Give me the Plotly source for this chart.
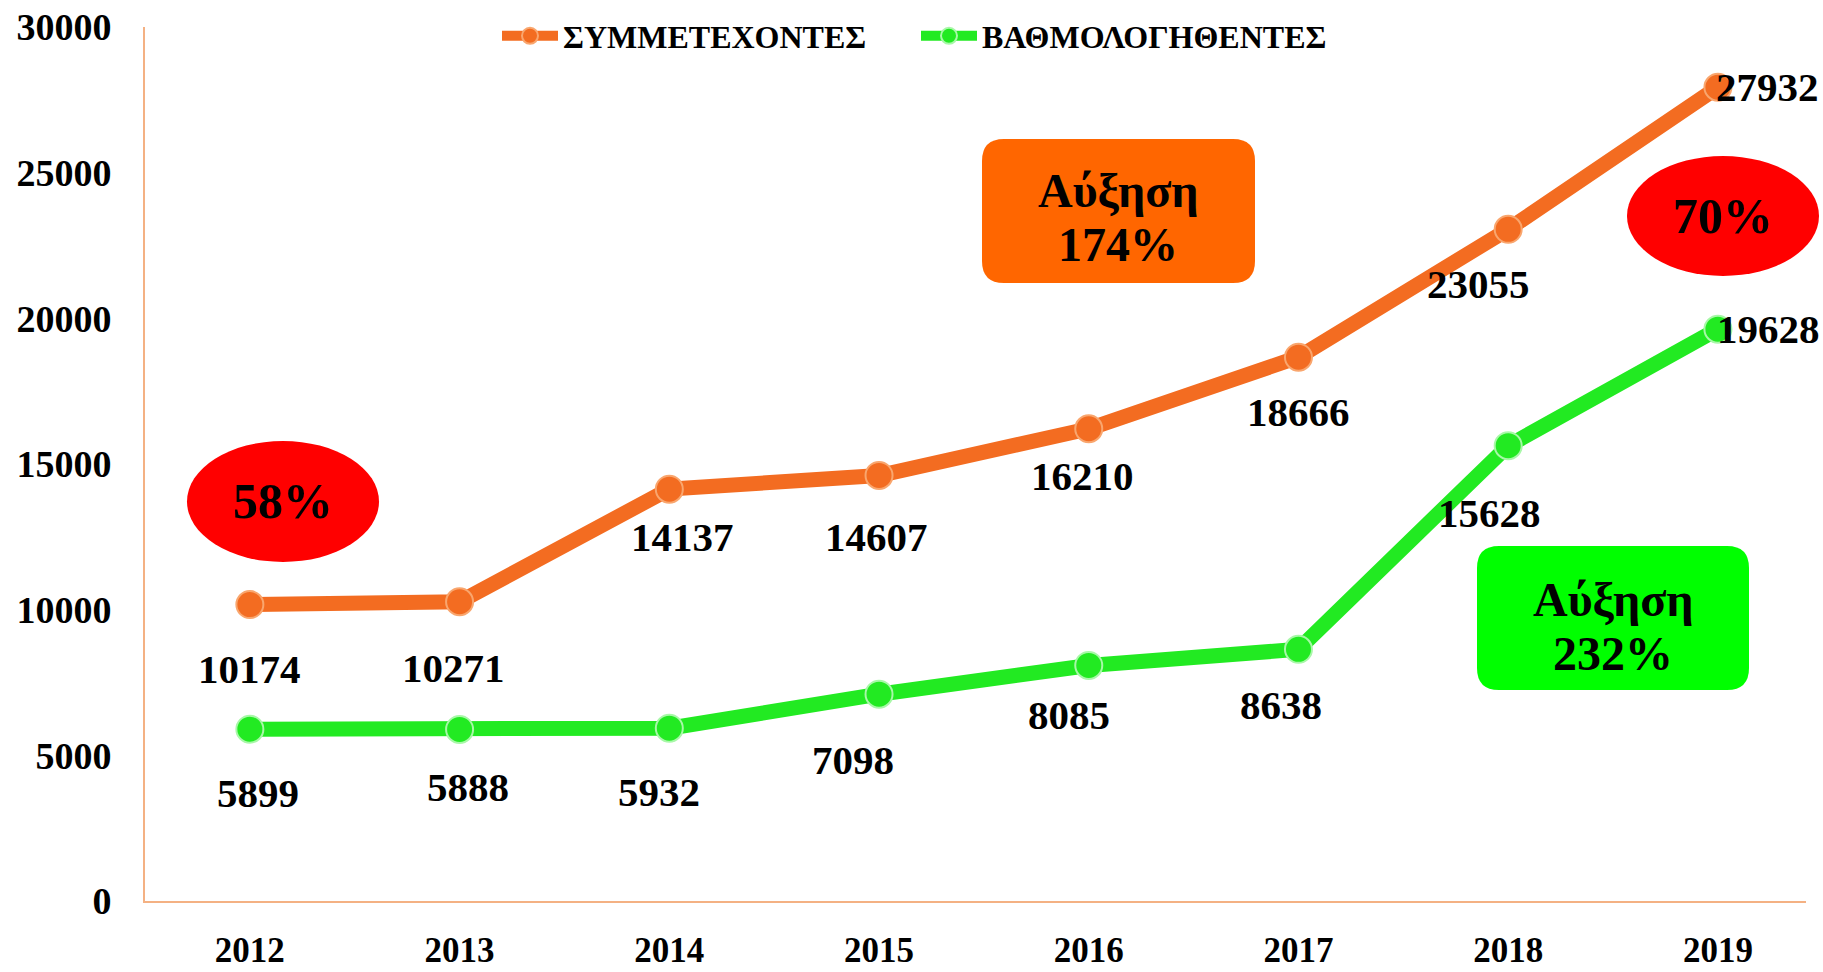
import plotly.graph_objects as go

years = ["2012", "2013", "2014", "2015", "2016", "2017", "2018", "2019"]
participants = [10174, 10271, 14137, 14607, 16210, 18666, 23055, 27932]
graded = [5899, 5888, 5932, 7098, 8085, 8638, 15628, 19628]
series_names = ["ΣΥΜΜΕΤΕΧΟΝΤΕΣ", "ΒΑΘΜΟΛΟΓΗΘΕΝΤΕΣ"]
y_ticks = [0, 5000, 10000, 15000, 20000, 25000, 30000]
box_word = "Αύξηση"
box_pcts = ["174%", "232%"]
ellipse_texts = ["58%", "70%"]

# label offsets (style only, px)
p_dx = [0, -6, 13, -3, -6, 0, -30, -4]
p_dy = [-64, -66, -48, -62, -47, -55, -55, 0]
g_dx = [8, 8, -10, -26, -20, -17, -19, -3]
g_dy = [-64, -58, -64, -66, -50, -56, -67, 0]

ORANGE = "#F36C21"
GREEN = "#22EA22"
FONT = "Liberation Serif, Times New Roman, serif"

W, H = 1823, 972
L, R, T, B = 145, 17, 27, 71
PW = W - L - R
PH = H - T - B


def px(x):
    return (x - L) / PW


def py(y):
    return (H - B - y) / PH


def rrect(x0, y0, x1, y1, r):
    a, b, c, d = px(x0), px(x1), py(y0), py(y1)
    rx, ry = r / PW, r / PH
    return (f"M {a+rx},{c} L {b-rx},{c} Q {b},{c} {b},{c-ry} "
            f"L {b},{d+ry} Q {b},{d} {b-rx},{d} L {a+rx},{d} "
            f"Q {a},{d} {a},{d+ry} L {a},{c-ry} Q {a},{c} {a+rx},{c} Z")


fig = go.Figure()
fig.add_trace(go.Scatter(
    x=years, y=participants, name=series_names[0], mode="lines+markers",
    line=dict(color=ORANGE, width=15),
    marker=dict(size=27, color=ORANGE, line=dict(color="#F9A66E", width=2)),
))
fig.add_trace(go.Scatter(
    x=years, y=graded, name=series_names[1], mode="lines+markers",
    line=dict(color=GREEN, width=15),
    marker=dict(size=27, color=GREEN, line=dict(color="#A8F8A8", width=2)),
))

annotations = []
lab_font = dict(family=FONT, size=41, color="black", weight="bold")
for series, dxs, dys in ((participants, p_dx, p_dy), (graded, g_dx, g_dy)):
    for i, v in enumerate(series):
        last = i == len(series) - 1
        annotations.append(dict(
            xref="x", yref="y", x=i, y=v, text=str(v), showarrow=False, font=lab_font,
            xanchor="left" if last else "center", yanchor="middle",
            xshift=dxs[i], yshift=dys[i]))

shapes = [
    dict(type="path", xref="paper", yref="paper", path=rrect(982, 139, 1255, 283, 22),
         fillcolor="#FF6600", line=dict(width=0), layer="above"),
    dict(type="path", xref="paper", yref="paper", path=rrect(1477, 546, 1749, 690, 22),
         fillcolor="#00FF00", line=dict(width=0), layer="above"),
    dict(type="circle", xref="paper", yref="paper",
         x0=px(187), x1=px(379), y0=py(562), y1=py(441),
         fillcolor="#FF0000", line=dict(width=0), layer="above"),
    dict(type="circle", xref="paper", yref="paper",
         x0=px(1627), x1=px(1819), y0=py(276), y1=py(156),
         fillcolor="#FF0000", line=dict(width=0), layer="above"),
]

box_font = dict(family=FONT, size=48, color="black", weight="bold")
for pct, (cx, cy1, cy2) in zip(box_pcts, [(1118, 190, 244), (1613, 599, 653)]):
    annotations.append(dict(xref="paper", yref="paper", x=px(cx), y=py(cy1),
                            text=box_word, showarrow=False, font=box_font,
                            xanchor="center", yanchor="middle"))
    annotations.append(dict(xref="paper", yref="paper", x=px(cx), y=py(cy2),
                            text=pct, showarrow=False, font=box_font,
                            xanchor="center", yanchor="middle"))
ell_font = dict(family=FONT, size=50, color="black", weight="bold")
for txt, (cx, cy) in zip(ellipse_texts, [(283, 501), (1723, 216)]):
    annotations.append(dict(xref="paper", yref="paper", x=px(cx), y=py(cy),
                            text=txt, showarrow=False, font=ell_font,
                            xanchor="center", yanchor="middle"))

fig.update_layout(
    width=W, height=H,
    margin=dict(l=L, r=R, t=T, b=B, autoexpand=False),
    paper_bgcolor="white", plot_bgcolor="white",
    showlegend=True,
    legend=dict(orientation="h", x=px(497), y=py(36), xanchor="left", yanchor="middle",
                font=dict(family=FONT, size=32, color="black", weight="bold"),
                itemwidth=56, entrywidth=348, entrywidthmode="pixels",
                bgcolor="rgba(0,0,0,0)"),
    annotations=annotations,
    shapes=shapes,
)
fig.update_xaxes(
    type="category", range=[-0.5, 7.42], showgrid=False, zeroline=False,
    showline=True, linecolor="#F4B183", linewidth=2, automargin=False,
    tickfont=dict(family=FONT, size=35, color="black", weight="bold"),
    ticklabelstandoff=17, fixedrange=True,
)
fig.update_yaxes(
    range=[0, 30000], tickvals=y_ticks, tickformat="d", showgrid=False, zeroline=False,
    showline=True, linecolor="#F4B183", linewidth=2, automargin=False,
    tickfont=dict(family=FONT, size=38, color="black", weight="bold"),
    ticklabelstandoff=24, fixedrange=True,
)

fig.write_html("out.html", config={"displayModeBar": False},
               post_script="document.body.style.margin='0';document.body.style.overflow='hidden';")
